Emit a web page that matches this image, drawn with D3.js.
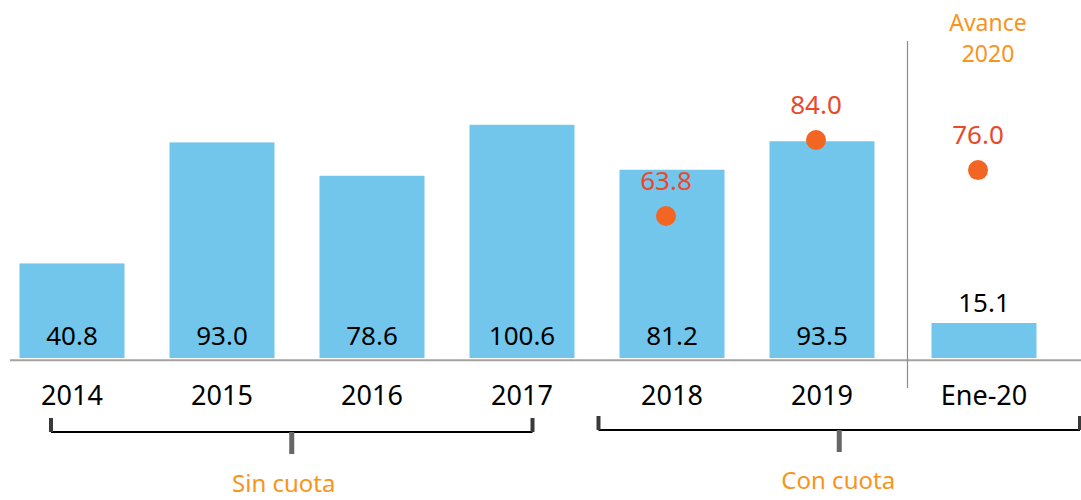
<!DOCTYPE html>
<html>
<head>
<meta charset="utf-8">
<script src="https://cdn.jsdelivr.net/npm/d3@7"></script>
<style>
  body { margin: 0; background: #fff; }
  text { font-family: "Noto Sans", "Open Sans", sans-serif; }
</style>
</head>
<body>
<svg id="chart"></svg>
<script>
// data
const categories = ['2014', '2015', '2016', '2017', '2018', '2019', 'Ene-20'];
const barValues = [40.8, 93.0, 78.6, 100.6, 81.2, 93.5, 15.1];
const pointCategories = ['2018', '2019', 'Ene-20'];
const pointValues = [63.8, 84.0, 76.0];
const groupLabels = ['Sin cuota', 'Con cuota'];
const groupFrom = ['2014', '2018'];
const groupTo = ['2017', 'Ene-20'];
const noteLines = ['Avance', '2020'];

const width = 1081;
const height = 500;
const baseY = 358;

const svg = d3.select('#chart')
  .attr('width', width)
  .attr('height', height);

const x = d3.scaleBand()
  .domain(categories)
  .range([-25.5, 1069.5])
  .padding(0.3);

// the last column sits after the separator, pushed a little right
const gap = c => (c === 'Ene-20' ? 12 : 0);
const xc = c => x(c) + gap(c);

const y = d3.scaleLinear()
  .domain([0, 110])
  .range([baseY, baseY - 255]);

// hidden secondary axis for the dots
const y2 = d3.scaleLinear()
  .domain([40, 90])
  .range([305.5, 117.4]);

const bars = categories.map((c, i) => ({ cat: c, value: barValues[i] }));
const points = pointCategories.map((c, i) => ({ cat: c, value: pointValues[i] }));

svg.selectAll('rect.bar')
  .data(bars)
  .enter().append('rect')
  .attr('class', 'bar')
  .attr('x', d => xc(d.cat))
  .attr('y', d => y(d.value))
  .attr('width', x.bandwidth())
  .attr('height', d => y(0) - y(d.value))
  .attr('fill', '#73c6eb');

// baseline
svg.append('line')
  .attr('x1', 10).attr('x2', width)
  .attr('y1', baseY + 2.3).attr('y2', baseY + 2.3)
  .attr('stroke', '#a3a3a3')
  .attr('stroke-width', 2);

// separator before the advance column
const sepX = xc('Ene-20') - 24;
svg.append('line')
  .attr('x1', sepX).attr('x2', sepX)
  .attr('y1', 41).attr('y2', 388)
  .attr('stroke', '#8c8c8c')
  .attr('stroke-width', 1.2);

// value labels inside bars (last one sits above its short bar)
svg.selectAll('text.val')
  .data(bars)
  .enter().append('text')
  .attr('class', 'val')
  .attr('x', d => xc(d.cat) + x.bandwidth() / 2)
  .attr('y', d => (y(0) - y(d.value) < 50 ? y(d.value) - 11 : 345))
  .attr('text-anchor', 'middle')
  .attr('font-size', 26)
  .attr('fill', '#000')
  .text(d => d3.format('.1f')(d.value));

// category labels
svg.selectAll('text.cat')
  .data(categories)
  .enter().append('text')
  .attr('class', 'cat')
  .attr('x', d => xc(d) + x.bandwidth() / 2)
  .attr('y', 405)
  .attr('text-anchor', 'middle')
  .attr('font-size', 27)
  .attr('fill', '#000')
  .text(d => d);

// dots
svg.selectAll('circle.pt')
  .data(points)
  .enter().append('circle')
  .attr('class', 'pt')
  .attr('cx', d => xc(d.cat) + x.bandwidth() / 2 - 6)
  .attr('cy', d => y2(d.value))
  .attr('r', 10)
  .attr('fill', '#f26522');

svg.selectAll('text.ptlab')
  .data(points)
  .enter().append('text')
  .attr('class', 'ptlab')
  .attr('x', d => xc(d.cat) + x.bandwidth() / 2 - 6)
  .attr('y', d => y2(d.value) - 26)
  .attr('text-anchor', 'middle')
  .attr('font-size', 26)
  .attr('fill', '#e8492a')
  .text(d => d3.format('.1f')(d.value));

// "Avance 2020" note
svg.append('text')
  .attr('x', xc('Ene-20') + x.bandwidth() / 2 + 4)
  .attr('y', 31)
  .attr('text-anchor', 'middle')
  .attr('font-size', 23)
  .attr('fill', '#f7941d')
  .selectAll('tspan')
  .data(noteLines)
  .enter().append('tspan')
  .attr('x', xc('Ene-20') + x.bandwidth() / 2 + 4)
  .attr('dy', (d, i) => (i === 0 ? 0 : 31))
  .text(d => d);

// group brackets
const bracketStart = [0.3, -0.2];
const bracketEnd = [0.6, 1.6];
const bracketY = [432, 430];
const labelY = [492, 489];

groupLabels.forEach((label, i) => {
  const x1 = xc(groupFrom[i]) + bracketStart[i] * x.bandwidth();
  const x2 = Math.min(width - 1, xc(groupTo[i]) + bracketEnd[i] * x.bandwidth());
  const by = bracketY[i];
  const mid = (x1 + x2) / 2;
  const g = svg.append('g');

  g.append('line')
    .attr('x1', x1).attr('x2', x2)
    .attr('y1', by).attr('y2', by)
    .attr('stroke', '#000')
    .attr('stroke-width', 2);

  [x1, x2].forEach(ex => {
    g.append('rect')
      .attr('x', ex - 2).attr('y', by - 14)
      .attr('width', 4).attr('height', 14)
      .attr('fill', '#3a3a3a');
  });

  g.append('rect')
    .attr('x', mid - 2.5).attr('y', by)
    .attr('width', 5).attr('height', 22)
    .attr('fill', '#666');

  g.append('text')
    .attr('x', mid - (i === 0 ? 8 : 1))
    .attr('y', labelY[i])
    .attr('text-anchor', 'middle')
    .attr('font-size', 24)
    .attr('fill', '#f7941d')
    .text(label);
});
</script>
</body>
</html>
